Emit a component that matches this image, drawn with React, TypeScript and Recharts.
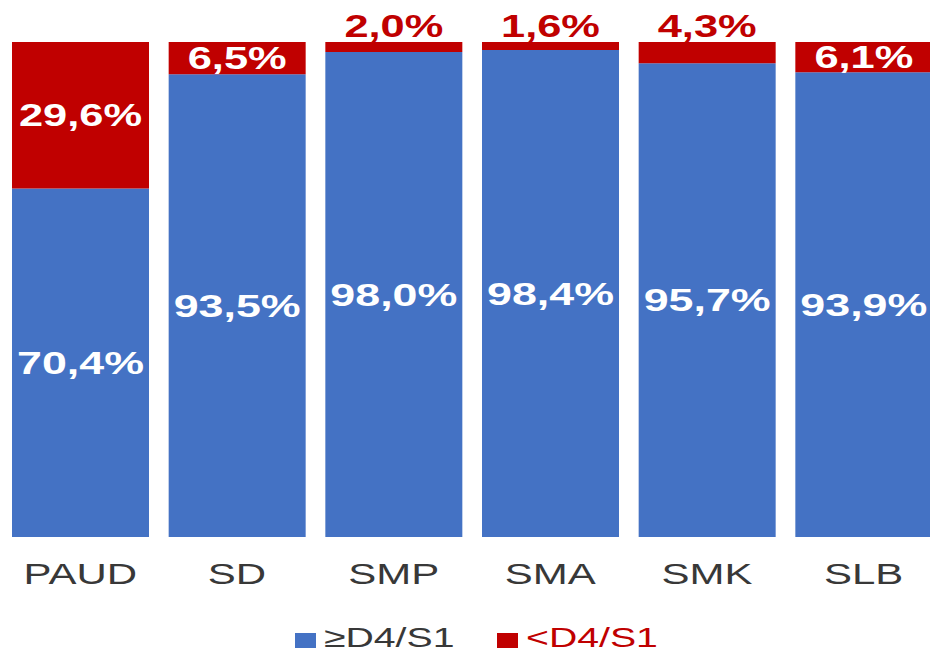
import { BarChart, Bar, XAxis, YAxis, LabelList } from 'recharts'

const categories = ['PAUD', 'SD', 'SMP', 'SMA', 'SMK', 'SLB']
const qualified = [70.4, 93.5, 98.0, 98.4, 95.7, 93.9]
const unqualified = [29.6, 6.5, 2.0, 1.6, 4.3, 6.1]
const seriesNames = ['≥D4/S1', '<D4/S1']

const BLUE = '#4472C4'
const RED = '#C00000'
const GREY = '#383838'
const FONT = '"Liberation Sans", Arial, sans-serif'
// the source picture is stretched sideways, so text is widened to match
const STRETCH = 1.4

const data = categories.map((name, i) => ({
  name,
  qualified: qualified[i],
  unqualified: unqualified[i],
}))

const fmt = (v: number) => v.toFixed(1).replace('.', ',') + '%'

function WideText({ x, y, children, fill, size, bold, anchor = 'middle', baseline }: any) {
  return (
    <g transform={`translate(${x},${y}) scale(${STRETCH},1)`}>
      <text
        textAnchor={anchor}
        dominantBaseline={baseline}
        fill={fill}
        fontSize={size}
        fontWeight={bold ? 'bold' : 'normal'}
        fontFamily={FONT}
      >
        {children}
      </text>
    </g>
  )
}

function BlueLabel(props: any) {
  const { x, y, width, height, value } = props
  return (
    <WideText x={x + width / 2} y={y + height / 2} fill="#fff" size={32} bold baseline="central">
      {fmt(value)}
    </WideText>
  )
}

function RedLabel(props: any) {
  const { x, y, width, height, value } = props
  if (value < 5) {
    return (
      <WideText x={x + width / 2} y={y - 5} fill={RED} size={31} bold>
        {fmt(value)}
      </WideText>
    )
  }
  return (
    <WideText x={x + width / 2} y={y + height / 2} fill="#fff" size={31} bold baseline="central">
      {fmt(value)}
    </WideText>
  )
}

function CategoryTick({ x, y, payload }: any) {
  return (
    <g transform={`translate(${x},${y}) scale(${STRETCH},1)`}>
      <text textAnchor="middle" dy={39} fill={GREY} fontSize={30} fontFamily={FONT}>
        {payload.value}
      </text>
    </g>
  )
}

function LegendItem({ left, color, textColor, label }: any) {
  return (
    <div style={{ position: 'absolute', left, top: 0, display: 'flex', alignItems: 'center', height: 32 }}>
      <span style={{ display: 'inline-block', width: 21, height: 15, background: color, marginTop: 4 }} />
      <span
        style={{
          display: 'inline-block',
          marginLeft: 8,
          fontFamily: FONT,
          fontSize: 28,
          lineHeight: '32px',
          color: textColor,
          transform: `scaleX(${STRETCH})`,
          transformOrigin: 'left center',
          whiteSpace: 'nowrap',
        }}
      >
        {label}
      </span>
    </div>
  )
}

export default function App() {
  return (
    <div style={{ position: 'absolute', left: 0, top: 0, width: 930, height: 652, overflow: 'hidden', background: '#fff' }}>
      <BarChart
        width={942}
        height={597}
        data={data}
        margin={{ top: 42, right: 0, left: 2, bottom: 0 }}
        barCategoryGap={10}
      >
        <XAxis dataKey="name" tickLine={false} axisLine={false} height={60} tick={<CategoryTick />} interval={0} />
        <YAxis hide domain={[0, 100]} />
        <Bar dataKey="qualified" stackId="a" fill={BLUE} isAnimationActive={false}>
          <LabelList dataKey="qualified" content={<BlueLabel />} />
        </Bar>
        <Bar dataKey="unqualified" stackId="a" fill={RED} isAnimationActive={false}>
          <LabelList dataKey="unqualified" content={<RedLabel />} />
        </Bar>
      </BarChart>
      <div style={{ position: 'absolute', left: 0, top: 622, width: 930, height: 32 }}>
        <LegendItem left={295} color={BLUE} textColor={GREY} label={seriesNames[0]} />
        <LegendItem left={497} color={RED} textColor={RED} label={seriesNames[1]} />
      </div>
    </div>
  )
}
